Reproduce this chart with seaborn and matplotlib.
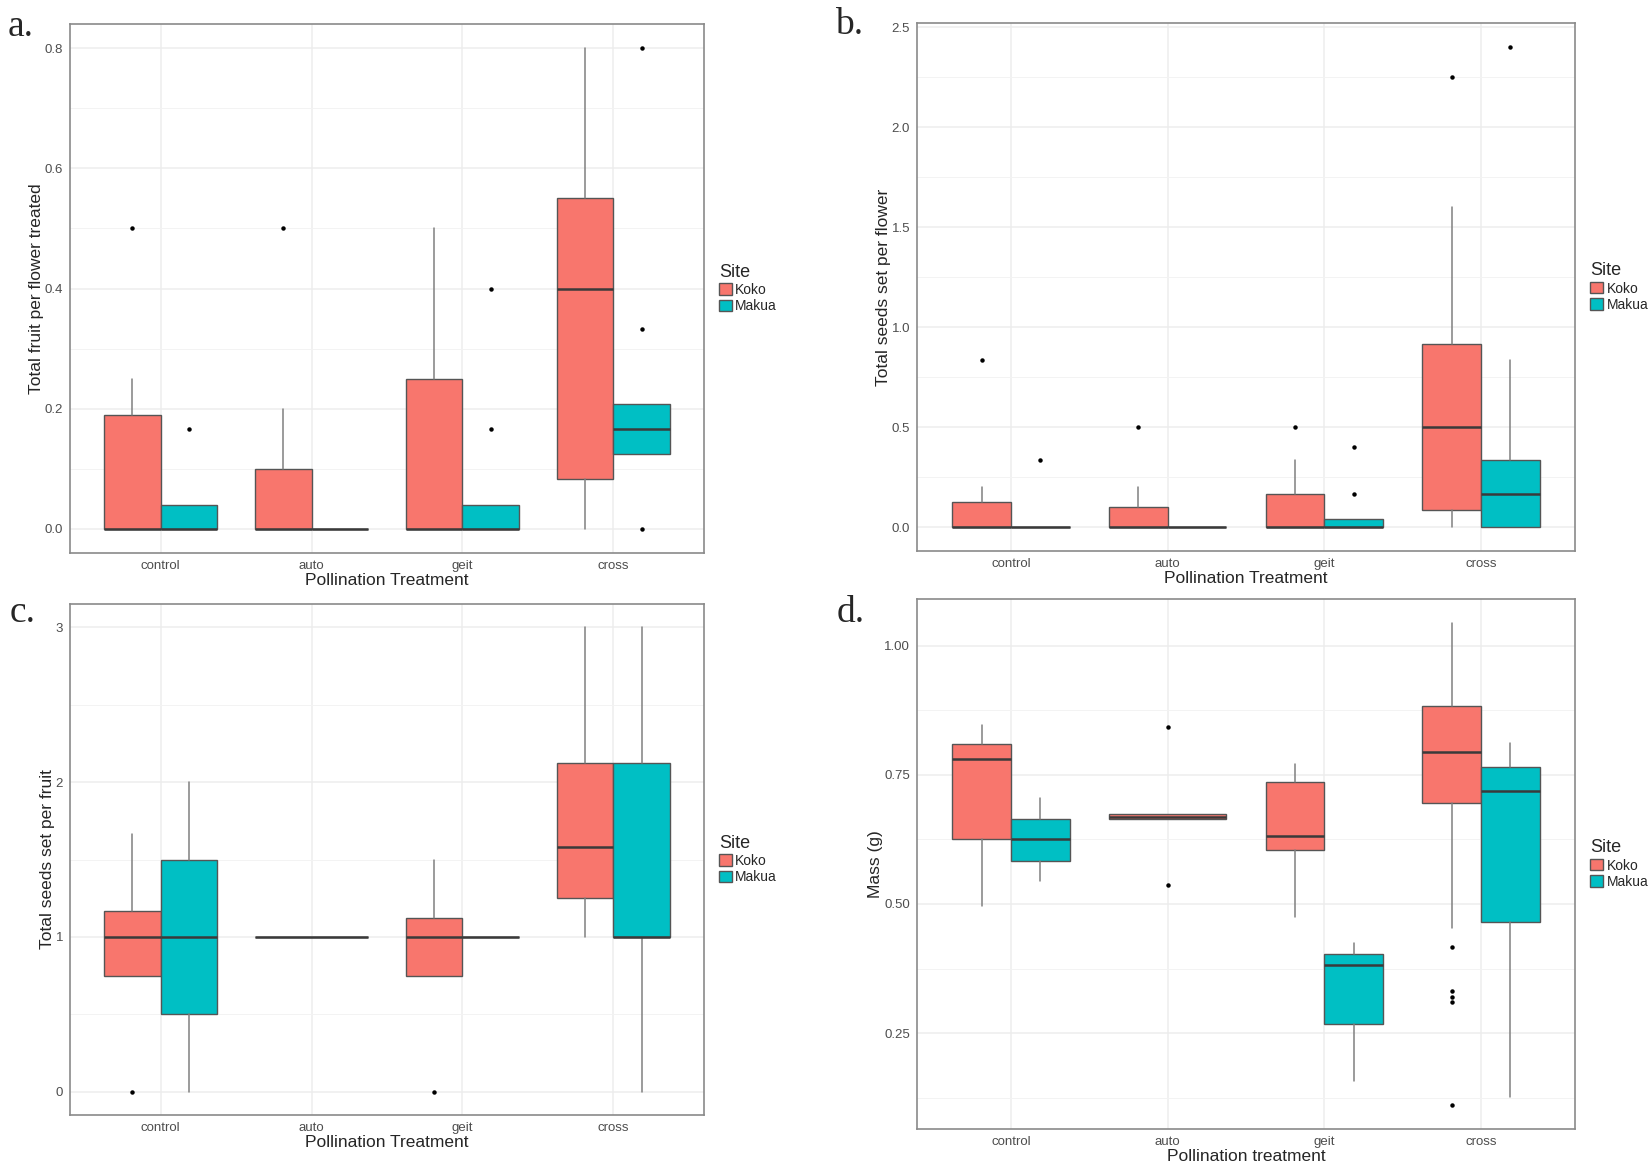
import matplotlib
matplotlib.use("Agg")
import matplotlib.pyplot as plt
import seaborn as sns
from matplotlib.patches import Patch

treatments = ["control", "auto", "geit", "cross"]
sites = ["Koko", "Makua"]
site_colors = ["#F8766D", "#00BFC4"]

# box summaries: (whisker low, q1, median, q3, whisker high)
# None = no data for that site/treatment

# a. total fruit per flower treated
fruit_koko = [(0, 0, 0, 0.19, 0.25), (0, 0, 0, 0.10, 0.20),
              (0, 0, 0, 0.25, 0.50), (0, 0.083, 0.40, 0.55, 0.80)]
fruit_koko_out = [[0.5], [0.5], [], []]
fruit_makua = [(0, 0, 0, 0.04, 0.04), (0, 0, 0, 0, 0),
               (0, 0, 0, 0.04, 0.04), (0.125, 0.125, 0.167, 0.208, 0.208)]
fruit_makua_out = [[0.167], [], [0.4, 0.167], [0.8, 0.333, 0.0]]

# b. total seeds set per flower
seeds_koko = [(0, 0, 0, 0.125, 0.2), (0, 0, 0, 0.1, 0.2),
              (0, 0, 0, 0.167, 0.333), (0, 0.083, 0.5, 0.917, 1.6)]
seeds_koko_out = [[0.833], [0.5], [0.5], [2.25]]
seeds_makua = [(0, 0, 0, 0, 0), (0, 0, 0, 0, 0),
               (0, 0, 0, 0.04, 0.04), (0, 0, 0.167, 0.333, 0.833)]
seeds_makua_out = [[0.333], [], [0.4, 0.167], [2.4]]

# c. total seeds set per fruit
perfruit_koko = [(0.75, 0.75, 1, 1.167, 1.667), (1, 1, 1, 1, 1),
                 (0.75, 0.75, 1, 1.125, 1.5), (1, 1.25, 1.583, 2.125, 3)]
perfruit_koko_out = [[0], [], [0], []]
perfruit_makua = [(0, 0.5, 1, 1.5, 2), None,
                  (1, 1, 1, 1, 1), (0, 1, 1, 2.125, 3)]
perfruit_makua_out = [[], [], [], []]

# d. mass (g)
mass_koko = [(0.496, 0.625, 0.78, 0.81, 0.846), (0.665, 0.665, 0.669, 0.675, 0.675),
             (0.475, 0.604, 0.632, 0.736, 0.771), (0.454, 0.696, 0.794, 0.884, 1.044)]
mass_koko_out = [[], [0.843, 0.537], [], [0.416, 0.331, 0.319, 0.311, 0.111]]
mass_makua = [(0.544, 0.584, 0.625, 0.664, 0.706), None,
              (0.157, 0.268, 0.382, 0.404, 0.425), (0.126, 0.466, 0.719, 0.765, 0.811)]
mass_makua_out = [[], [], [], []]

ticks_a = [0.0, 0.2, 0.4, 0.6, 0.8]
ticks_b = [0.0, 0.5, 1.0, 1.5, 2.0, 2.5]
ticks_c = [0, 1, 2, 3]
ticks_d = [0.25, 0.50, 0.75, 1.00]

######

sns.set_style("white")
plt.rcParams["font.family"] = ["Liberation Sans", "DejaVu Sans"]

W, H = 1651, 1167
fig = plt.figure(figsize=(W / 100, H / 100), dpi=100)


def rect(l, t, r, b):
    return [l / W, 1 - b / H, (r - l) / W, (b - t) / H]


def draw_boxes(ax, koko, koko_out, makua, makua_out):
    for i in range(len(treatments)):
        groups = [(0, koko[i], koko_out[i]), (1, makua[i], makua_out[i])]
        groups = [g for g in groups if g[1] is not None]
        w = 0.75 / len(groups)
        for j, (s, five, out) in enumerate(groups):
            lo, q1, med, q3, hi = five
            pos = i - 0.375 + w * (j + 0.5)
            ax.bxp([dict(whislo=lo, q1=q1, med=med, q3=q3, whishi=hi, fliers=out)],
                   positions=[pos], widths=w, patch_artist=True, showcaps=False,
                   manage_ticks=False,
                   boxprops=dict(facecolor=site_colors[s], edgecolor="#555555", linewidth=1),
                   medianprops=dict(color="#3a3a3a", linewidth=1.8),
                   whiskerprops=dict(color="#808080", linewidth=1.1),
                   flierprops=dict(marker="o", markerfacecolor="black",
                                   markeredgecolor="black", markersize=2.2))


def style_panel(ax, ylabel, xlabel, ylim, ticks, fmt, minor):
    ax.set_xlim(-0.6, 3.6)
    ax.set_ylim(*ylim)
    ax.set_xticks(range(len(treatments)))
    ax.set_xticklabels(treatments)
    ax.set_yticks(ticks)
    ax.set_yticklabels([fmt.format(t) for t in ticks])
    ax.set_yticks(minor, minor=True)
    ax.grid(True, which="major", color="#ededed", linewidth=1.1, zorder=0)
    ax.grid(True, which="minor", axis="y", color="#f3f3f3", linewidth=0.7, zorder=0)
    ax.set_axisbelow(True)
    for sp in ax.spines.values():
        sp.set_color("#8a8a8a")
        sp.set_linewidth(1.2)
    ax.tick_params(which="major", length=3, color="#8a8a8a", labelsize=9.5,
                   labelcolor="#4d4d4d", pad=2)
    ax.tick_params(which="minor", length=0)
    ax.set_ylabel(ylabel, fontsize=12.5, labelpad=0.5)
    ax.set_xlabel(xlabel, fontsize=12.5, labelpad=1)
    handles = [Patch(facecolor=c, edgecolor="#555555", label=s)
               for s, c in zip(sites, site_colors)]
    ax.legend(handles=handles, title="Site", loc="center left",
              bbox_to_anchor=(1.015, 0.5), frameon=False, fontsize=10,
              title_fontsize=13, handlelength=0.9, handleheight=0.9,
              handletextpad=0.25, labelspacing=0.15, borderaxespad=0,
              alignment="left")


ax_a = fig.add_axes(rect(70, 24, 704, 553))
draw_boxes(ax_a, fruit_koko, fruit_koko_out, fruit_makua, fruit_makua_out)
style_panel(ax_a, "Total fruit per flower treated", "Pollination Treatment",
            (-0.04, 0.84), ticks_a, "{:.1f}", [0.1, 0.3, 0.5, 0.7])

ax_b = fig.add_axes(rect(917, 23, 1575, 551))
draw_boxes(ax_b, seeds_koko, seeds_koko_out, seeds_makua, seeds_makua_out)
style_panel(ax_b, "Total seeds set per flower", "Pollination Treatment",
            (-0.12, 2.52), ticks_b, "{:.1f}", [0.25, 0.75, 1.25, 1.75, 2.25])

ax_c = fig.add_axes(rect(70, 604, 704, 1115))
draw_boxes(ax_c, perfruit_koko, perfruit_koko_out, perfruit_makua, perfruit_makua_out)
style_panel(ax_c, "Total seeds set per fruit", "Pollination Treatment",
            (-0.15, 3.15), ticks_c, "{:d}", [0.5, 1.5, 2.5])

ax_d = fig.add_axes(rect(917, 599, 1575, 1129))
draw_boxes(ax_d, mass_koko, mass_koko_out, mass_makua, mass_makua_out)
style_panel(ax_d, "Mass (g)", "Pollination treatment",
            (0.064, 1.091), ticks_d, "{:.2f}", [0.125, 0.375, 0.625, 0.875])

for letter, x, y in [("a.", 8, 36), ("b.", 835, 34), ("c.", 10, 622), ("d.", 837, 622)]:
    fig.text(x / W, 1 - y / H, letter, fontsize=27, family="Liberation Serif",
             ha="left", va="baseline")

fig.savefig("out.png", dpi=100)
